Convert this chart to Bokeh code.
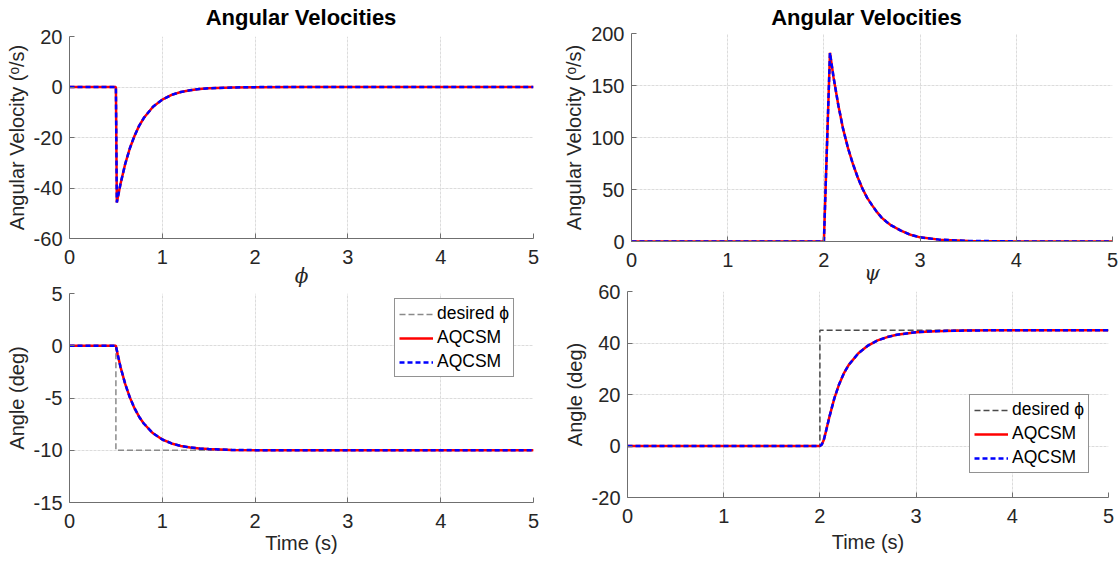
from bokeh.plotting import figure
from bokeh.layouts import column, row
from bokeh.models import (Range1d, FixedTicker, Legend, LegendItem,
                          PrintfTickFormatter, Div)
from bokeh.embed import file_html
from bokeh.resources import INLINE

# ---------------- data ----------------
x_ticks = [0, 1, 2, 3, 4, 5]

# roll rate (top-left)
t_phi_rate = [0, 0.5, 0.51, 0.55, 0.6, 0.65, 0.7, 0.75, 0.8, 0.9, 1.0, 1.1, 1.2,
              1.3, 1.4, 1.5, 1.75, 2.0, 2.5, 3.0, 4.0, 5.0]
phi_rate = [0, 0, -45.7, -38.3, -30.5, -24.3, -19.4, -15.4, -12.3, -7.8, -5.0, -3.1,
            -2.0, -1.3, -0.8, -0.5, -0.2, -0.05, 0, 0, 0, 0]

# yaw rate (top-right)
t_psi_rate = [0, 2.0, 2.02, 2.04, 2.063, 2.1, 2.15, 2.2, 2.25, 2.3, 2.35, 2.4, 2.45,
              2.5, 2.55, 2.6, 2.65, 2.7, 2.8, 2.9, 3.0, 3.2, 3.5, 4.0, 5.0]
psi_rate = [0, 0, 58, 115, 181.5, 158, 131, 108, 90, 75, 62, 51, 42,
            35, 28.5, 23, 19, 15.5, 10.5, 6.5, 4.0, 1.8, 0.6, 0.1, 0]

# roll angle (bottom-left)
t_phi = [0, 0.5, 0.52, 0.55, 0.6, 0.65, 0.7, 0.75, 0.8, 0.9, 1.0, 1.1, 1.2, 1.3,
         1.4, 1.5, 1.75, 2.0, 2.5, 3.0, 4.0, 5.0]
phi_angle = [0, 0, -0.87, -2.04, -3.65, -4.94, -5.97, -6.79, -7.44, -8.38, -8.97,
             -9.35, -9.59, -9.74, -9.83, -9.89, -9.97, -9.99, -10, -10, -10, -10]
t_phi_des = [0, 0.5, 0.5, 5]
phi_des = [0, 0, -10, -10]

# yaw angle (bottom-right)
t_psi = [0, 2.0, 2.02, 2.04, 2.063, 2.1, 2.15, 2.2, 2.25, 2.3, 2.4, 2.5, 2.6, 2.7,
         2.8, 3.0, 3.2, 3.5, 4.0, 5.0]
psi_angle = [0, 0, 0.6, 2.3, 5.7, 11.5, 18.5, 24.0, 28.3, 31.5, 36.0, 39.0, 41.0,
             42.3, 43.2, 44.2, 44.6, 44.85, 45, 45]
t_psi_des = [0, 2, 2, 5]
psi_des = [0, 0, 45, 45]

FONT = "Liberation Sans"
TXT = "#262626"
AX = "#6f6f6f"


def make_fig(fw, fh, left, right, top, bottom, yr, yticks, ylabel, xlabel,
             margin=None, xlabel_serif=False, xlabel_standoff=2):
    p = figure(frame_width=fw, frame_height=fh, output_backend="svg",
               toolbar_location=None, x_range=Range1d(0, 5), y_range=Range1d(*yr),
               min_border_left=left, min_border_right=right,
               min_border_top=top, min_border_bottom=bottom, margin=margin)
    p.outline_line_color = None
    p.background_fill_color = "white"
    p.border_fill_color = None
    p.xaxis.ticker = FixedTicker(ticks=x_ticks)
    p.yaxis.ticker = FixedTicker(ticks=yticks)
    for ax in (p.xaxis[0], p.yaxis[0]):
        ax.formatter = PrintfTickFormatter(format="%d")
        ax.axis_line_color = AX
        ax.axis_line_width = 1
        ax.major_tick_line_color = AX
        ax.major_tick_in = 5
        ax.major_tick_out = 0
        ax.minor_tick_line_color = None
        ax.major_label_text_font = FONT
        ax.major_label_text_font_size = "20px"
        ax.major_label_text_color = TXT
        ax.axis_label_text_font = FONT
        ax.axis_label_text_font_size = "20px"
        ax.axis_label_text_color = TXT
        ax.axis_label_text_font_style = "normal"
    p.xaxis.major_label_standoff = 11
    p.yaxis.major_label_standoff = 7
    p.yaxis.axis_label = ylabel
    p.yaxis.axis_label_standoff = 3
    p.xaxis.axis_label = xlabel
    p.xaxis.axis_label_standoff = xlabel_standoff
    if xlabel_serif:
        p.xaxis.axis_label_text_font = "DejaVu Serif"
        p.xaxis.axis_label_text_font_style = "italic"
    p.grid.grid_line_color = "#dcdcdc"
    p.grid.grid_line_width = 1
    p.grid.grid_line_dash = "3 1"
    return p


def add_curves(p, t, y):
    r_red = p.line(t, y, line_color="red", line_width=2.5)
    r_blue = p.line(t, y, line_color="blue", line_width=2.5, line_dash="5 3")
    return r_red, r_blue


def add_legend(p, r_des, r_red, r_blue, loc):
    leg = Legend(items=[LegendItem(label="desired \u03d5", renderers=[r_des]),
                        LegendItem(label="AQCSM", renderers=[r_red]),
                        LegendItem(label="AQCSM", renderers=[r_blue])],
                 location=loc)
    leg.border_line_color = "#262626"
    leg.border_line_width = 1
    leg.background_fill_color = "white"
    leg.background_fill_alpha = 1
    leg.padding = 4
    leg.spacing = 3
    leg.margin = 0
    leg.glyph_width = 34
    leg.glyph_height = 20
    leg.label_height = 20
    leg.label_standoff = 4
    leg.label_text_font = FONT
    leg.label_text_font_size = "17.5px"
    leg.label_text_color = "black"
    p.add_layout(leg)


def title_div(fw, left, right):
    return Div(text="Angular Velocities", width=fw, height=36,
               margin=(0, right, 0, left),
               styles={"font-family": FONT, "font-size": "22px", "font-weight": "bold",
                       "text-align": "center", "line-height": "36px",
                       "color": "black"})


# titles row (0..36 px)
t1 = title_div(464, 69, 27)
t2 = title_div(481, 66, 11)

# top-left: starts at y=16 (overlaps the title strip with a transparent border)
p1 = make_fig(464, 202, 69, 27, 20, 70, (-60, 20), [-60, -40, -20, 0, 20],
              "Angular Velocity (\u1d52/s)", "\u03d5", margin=(-20, 0, 0, 0),
              xlabel_serif=True, xlabel_standoff=-3)
add_curves(p1, t_phi_rate, phi_rate)

# top-right: starts at y=13
p2 = make_fig(481, 208, 66, 11, 20, 67, (0, 200), [0, 50, 100, 150, 200],
              "Angular Velocity (\u1d52/s)", "\u03c8", margin=(-23, 0, 0, 0),
              xlabel_serif=True, xlabel_standoff=-9)
add_curves(p2, t_psi_rate, psi_rate)

# bottom-left: starts at y=270
p3 = make_fig(464, 209, 69, 27, 23, 61, (-15, 5), [-15, -10, -5, 0, 5],
              "Angle (deg)", "Time (s)", margin=(-38, 0, 0, 0), xlabel_standoff=1)
d3 = p3.line(t_phi_des, phi_des, line_color="#8a8a8a", line_width=1.5, line_dash="6 3")
r3, b3 = add_curves(p3, t_phi, phi_angle)
add_legend(p3, d3, r3, b3, (325, 125))

# bottom-right: starts at y=268
p4 = make_fig(481, 206, 66, 11, 23, 66, (-20, 60), [-20, 0, 20, 40, 60],
              "Angle (deg)", "Time (s)", margin=(-40, 0, 0, 0), xlabel_standoff=5)
d4 = p4.line(t_psi_des, psi_des, line_color="#4a4a4a", line_width=1.5, line_dash="6 3")
r4, b4 = add_curves(p4, t_psi, psi_angle)
add_legend(p4, d4, r4, b4, (342, 24))

layout = column(row(t1, t2), row(p1, p2), row(p3, p4))
open("out.html", "w").write(file_html(layout, INLINE))
